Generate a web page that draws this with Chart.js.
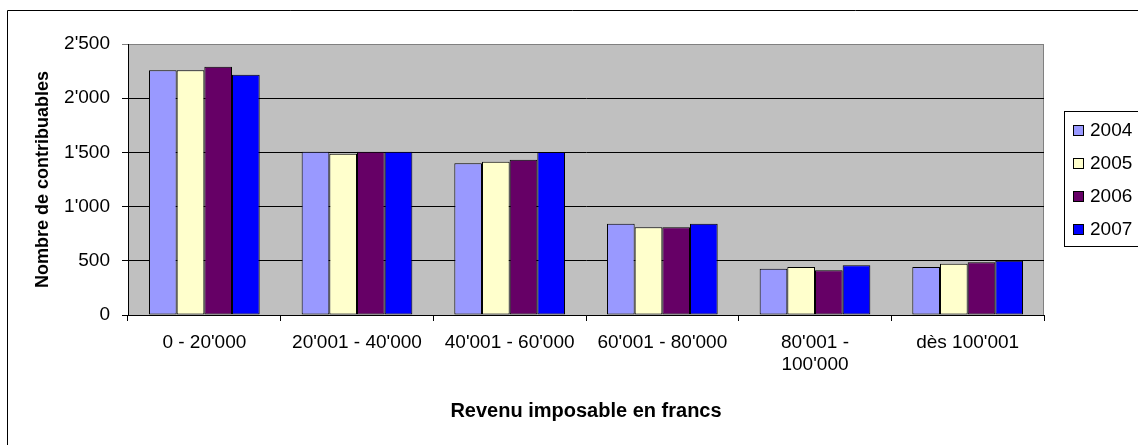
<!DOCTYPE html>
<html>
<head>
<meta charset="utf-8">
<script src="https://cdn.jsdelivr.net/npm/chart.js@4"></script>
<style>
  html, body { margin: 0; padding: 0; background: #fff; overflow: hidden; }
  #wrap { width: 1138px; height: 445px; position: relative; }
</style>
</head>
<body>
<div id="wrap"><canvas id="myChart" width="1138" height="445"></canvas></div>
<script>
// data
const categories = ["0 - 20'000", "20'001 - 40'000", "40'001 - 60'000", "60'001 - 80'000", ["80'001 -", "100'000"], "dès 100'001"];
const years = ["2004", "2005", "2006", "2007"];
const v2004 = [2257, 1506, 1399, 842, 427, 443];
const v2005 = [2257, 1488, 1414, 809, 443, 473];
const v2006 = [2291, 1506, 1433, 809, 412, 486];
const v2007 = [2217, 1506, 1504, 842, 458, 501];
const yTicks = [0, 500, 1000, 1500, 2000, 2500];

const colors = ["#9999FF", "#FFFFCC", "#660066", "#0000FF"];
const font = "'Liberation Sans', Arial, sans-serif";

function fmt(n) {
  if (n < 1000) return String(n);
  const rest = String(n % 1000).padStart(3, "0");
  return Math.floor(n / 1000) + "'" + rest;
}

// grey plot area + outer frame
const background = {
  id: "background",
  beforeDraw(chart) {
    const ctx = chart.ctx;
    const a = chart.chartArea;
    ctx.save();
    ctx.strokeStyle = "#000";
    ctx.lineWidth = 1;
    ctx.beginPath();
    ctx.moveTo(7.5, 445);
    ctx.lineTo(7.5, 10.5);
    ctx.lineTo(1138, 10.5);
    ctx.stroke();
    ctx.fillStyle = "#C0C0C0";
    ctx.fillRect(a.left, a.top, a.right - a.left, a.bottom - a.top);
    ctx.strokeStyle = "#808080";
    ctx.beginPath();
    ctx.moveTo(a.left, a.top + 0.5);
    ctx.lineTo(a.right - 0.5, a.top + 0.5);
    ctx.lineTo(a.right - 0.5, a.bottom);
    ctx.stroke();
    ctx.restore();
  }
};

// boxed legend on the right
const boxLegend = {
  id: "boxLegend",
  afterDraw(chart) {
    const ctx = chart.ctx;
    ctx.save();
    ctx.strokeStyle = "#000";
    ctx.lineWidth = 1;
    ctx.strokeRect(1064.5, 111.5, 100, 135);
    ctx.font = "19px " + font;
    ctx.textBaseline = "middle";
    chart.data.datasets.forEach((ds, i) => {
      const y = 131 + i * 33;
      ctx.fillStyle = ds.backgroundColor;
      ctx.fillRect(1073.5, y - 5.5, 10, 10);
      ctx.strokeRect(1073.5, y - 5.5, 10, 10);
      ctx.fillStyle = "#000";
      ctx.fillText(ds.label, 1090, y);
    });
    ctx.restore();
  }
};

const ctx = document.getElementById("myChart");

const myChart = new Chart(ctx, {
  type: "bar",
  data: {
    labels: categories,
    datasets: [
      { label: years[0], data: v2004, backgroundColor: colors[0] },
      { label: years[1], data: v2005, backgroundColor: colors[1] },
      { label: years[2], data: v2006, backgroundColor: colors[2] },
      { label: years[3], data: v2007, backgroundColor: colors[3] },
    ].map(d => Object.assign(d, {
      borderColor: "#000",
      borderWidth: 1,
      borderSkipped: false,
      categoryPercentage: 0.725,
      barPercentage: 1,
    })),
  },
  options: {
    responsive: false,
    animation: false,
    layout: { padding: { left: 0, top: 44, right: 94, bottom: 0 } },
    plugins: {
      legend: { display: false },
      tooltip: { enabled: false },
    },
    scales: {
      x: {
        offset: true,
        afterFit(scale) { scale.height = 130; },
        grid: {
          offset: true,
          drawOnChartArea: false,
          drawTicks: true,
          tickLength: 6,
          color: "#000",
        },
        border: { color: "#000", width: 1 },
        ticks: {
          color: "#000",
          font: { family: font, size: 19 },
          padding: 10,
          maxRotation: 0,
          autoSkip: false,
        },
        title: {
          display: true,
          text: "Revenu imposable en francs",
          color: "#000",
          font: { family: font, size: 20, weight: "bold" },
          padding: { top: 0, bottom: 22 },
        },
      },
      y: {
        min: 0,
        max: 2500,
        afterFit(scale) { scale.width = 128; },
        afterBuildTicks(scale) { scale.ticks = yTicks.map(v => ({ value: v })); },
        grid: {
          drawTicks: true,
          tickLength: 6,
          color: c => (c.tick && c.tick.value === 2500 ? "#808080" : "#000"),
        },
        border: { color: "#000", width: 1 },
        ticks: {
          color: "#000",
          font: { family: font, size: 19 },
          padding: 12,
          callback: v => fmt(v),
        },
        title: {
          display: true,
          text: "Nombre de contribuables",
          color: "#000",
          font: { family: font, size: 18, weight: "bold" },
          padding: { top: 32, bottom: 0 },
        },
      },
    },
  },
  plugins: [background, boxLegend],
});
</script>
</body>
</html>
